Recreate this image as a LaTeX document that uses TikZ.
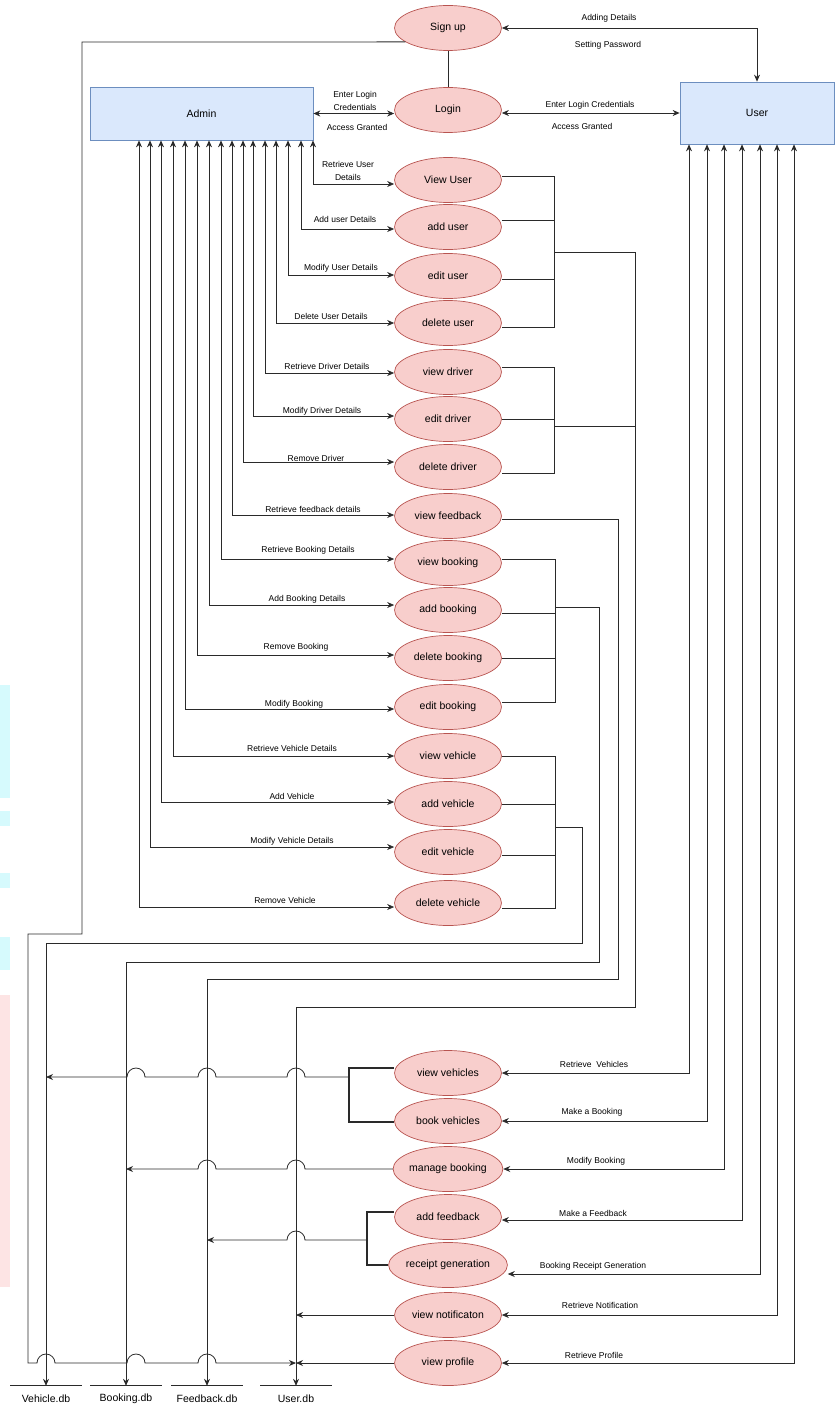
\documentclass[tikz,border=0pt]{standalone}
\usepackage{fontspec}
\setmainfont{Liberation Sans}
\usetikzlibrary{shapes.geometric,arrows.meta}
\definecolor{ucfill}{HTML}{F8CECC}
\definecolor{ucborder}{HTML}{B85450}
\definecolor{acfill}{HTML}{DAE8FC}
\definecolor{acborder}{HTML}{6C8EBF}
\definecolor{linec}{HTML}{2A2A2A}
\definecolor{wmcyan}{HTML}{D6FAFD}
\definecolor{wmpink}{HTML}{FDE4E4}
\tikzset{
  uc/.style={ellipse, draw=ucborder, fill=ucfill, line width=0.7pt, minimum width=107pt, minimum height=45pt, inner sep=0pt, font=\fontsize{10.5}{12}\selectfont},
  actor/.style={rectangle, draw=acborder, fill=acfill, line width=0.7pt, inner sep=0pt, font=\fontsize{10.5}{12}\selectfont},
  lab/.style={font=\fontsize{8.5}{13}\selectfont, inner sep=0pt, align=center},
  dbl/.style={minimum width=71pt, minimum height=26pt, inner sep=0pt, font=\fontsize{10.5}{12}\selectfont},
  conn/.style={draw=linec, line width=0.8pt},
  arr/.style={conn, -{Stealth[length=7pt,width=6pt]}},
  biarr/.style={conn, {Stealth[length=7pt,width=6pt]}-{Stealth[length=7pt,width=6pt]}},
  bracket/.style={conn, line width=1.8pt},
}
\begin{document}
\begin{tikzpicture}[x=1pt,y=-1pt]
\useasboundingbox (0,0) rectangle (835,1410);
% faint background marks at the left edge
\fill[wmcyan] (0,685) rectangle (10,798);
\fill[wmcyan] (0,811) rectangle (10,826);
\fill[wmcyan] (0,873) rectangle (10,888);
\fill[wmcyan] (0,937) rectangle (10,970);
\fill[wmpink] (0,995) rectangle (10,1287);

% actors
\node[actor, minimum width=223pt, minimum height=53pt] (admin) at (201.5,113.5) {Admin};
\node[actor, minimum width=154pt, minimum height=62pt] (user) at (757,113) {User};

% use cases
\node[uc] (signup) at (448,28) {Sign up};
\node[uc] (login) at (448,110) {Login};
\node[uc] (vuser) at (448,180) {View User};
\node[uc] (auser) at (448,227) {add user};
\node[uc] (euser) at (448,276) {edit user};
\node[uc] (duser) at (448,323) {delete user};
\node[uc] (vdriver) at (448,372) {view driver};
\node[uc] (edriver) at (448,419) {edit driver};
\node[uc] (ddriver) at (448,467) {delete driver};
\node[uc] (vfeed) at (448,516) {view feedback};
\node[uc] (vbook) at (448,563) {view booking};
\node[uc] (abook) at (448,610) {add booking};
\node[uc] (dbook) at (448,658) {delete booking};
\node[uc] (ebook) at (448,707) {edit booking};
\node[uc] (vveh) at (448,756) {view vehicle};
\node[uc] (aveh) at (448,804) {add vehicle};
\node[uc] (eveh) at (448,852) {edit vehicle};
\node[uc] (dveh) at (448,903) {delete vehicle};
\node[uc] (vvehs) at (448,1073) {view vehicles};
\node[uc] (bveh) at (448,1121) {book vehicles};
\node[uc] (mbook) at (448,1169) {manage booking};
\node[uc] (afeed) at (448,1217) {add feedback};
\node[uc] (rgen) at (448,1265) {receipt generation};
\node[uc] (vnot) at (448,1315) {view notificaton};
\node[uc] (vprof) at (448,1363) {view profile};

% data stores
\node[dbl] (vdb) at (46,1399) {Vehicle.db};
\node[dbl] (bdb) at (126,1399) {Booking.db};
\node[dbl] (fdb) at (207,1399) {Feedback.db};
\node[dbl] (udb) at (296,1399) {User.db};
\foreach \d in {vdb,bdb,fdb,udb}
  \draw[conn] (\d.north west) -- (\d.north east);

% top connections
\draw[conn] (signup.south) -- (login.north);
\draw[biarr] (signup.east) -| (user.north);
\draw[biarr] (login.east |- 0,113) -- (user.west |- 0,113);
\draw[biarr] (admin.east) -- (login.west |- admin.east);
\node[lab] at (609,18) {Adding Details};
\node[lab] at (608,45) {Setting Password};
\node[lab] at (590,105) {Enter Login Credentials};
\node[lab] at (582,126) {Access Granted};
\node[lab] at (355,100.5) {Enter Login\\Credentials};
\node[lab] at (357,127) {Access Granted};

% admin connections
\foreach \x/\y/\n in {313/184/vuser, 301/229/auser, 288/275/euser, 276/323/duser,
  265/373/vdriver, 253/416/edriver, 243/462/ddriver, 232/515/vfeed, 221/559/vbook,
  209/605/abook, 197/655/dbook, 185/709/ebook, 173/756/vveh, 161/802/aveh,
  150/847/eveh, 139/907/dveh}
  \draw[biarr] (admin.south -| \x,0) |- (\n.west |- 0,\y);
\node[lab] at (348,170.5) {Retrieve User\\Details};
\node[lab] at (345,219) {Add user Details};
\node[lab] at (341,268) {Modify User Details};
\node[lab] at (331,316) {Delete User Details};
\node[lab] at (327,366) {Retrieve Driver Details};
\node[lab] at (322,411) {Modify Driver Details};
\node[lab] at (316,458) {Remove Driver};
\node[lab] at (313,509) {Retrieve feedback details};
\node[lab] at (308,550) {Retrieve Booking Details};
\node[lab] at (307,599) {Add Booking Details};
\node[lab] at (296,647) {Remove Booking};
\node[lab] at (294,704) {Modify Booking};
\node[lab] at (292,748) {Retrieve Vehicle Details};
\node[lab] at (292,796) {Add Vehicle};
\node[lab] at (292,841) {Modify Vehicle Details};
\node[lab] at (285,900) {Remove Vehicle};

% user-group bus
\draw[conn] (vuser.east |- 0,176) -- (554,176) -- (554,327) -- (duser.east |- 0,327);
\draw[conn] (auser.east |- 0,220) -- (554,220);
\draw[conn] (euser.east |- 0,279) -- (554,279);
% driver-group bus
\draw[conn] (vdriver.east |- 0,367) -- (554,367) -- (554,473) -- (ddriver.east |- 0,473);
\draw[conn] (edriver.east) -- (edriver.east -| 554,0);
\draw[conn] (554,426) -- (635,426);
\draw[arr] (554,252) -- (635,252) -- (635,1007) -- (udb.north |- 0,1007) -- (udb.north);
% feedback
\draw[arr] (vfeed.east |- 0,519) -- (618,519) -- (618,979) -- (fdb.north |- 0,979) -- (fdb.north);
% booking-group bus
\draw[conn] (vbook.east |- 0,559) -- (555,559) -- (555,702) -- (ebook.east |- 0,702);
\draw[conn] (abook.east |- 0,613) -- (555,613);
\draw[conn] (dbook.east) -- (dbook.east -| 555,0);
\draw[arr] (555,607) -- (599,607) -- (599,962) -- (bdb.north |- 0,962) -- (bdb.north);
% vehicle-group bus
\draw[conn] (vveh.east) -- (vveh.east -| 555,0) -- (555,908) -- (dveh.east |- 0,908);
\draw[conn] (aveh.east) -- (aveh.east -| 555,0);
\draw[conn] (eveh.east |- 0,855) -- (555,855);
\draw[arr] (555,827) -- (582,827) -- (582,943) -- (vdb.north |- 0,943) -- (vdb.north);

% sign up to user.db
\draw[arr] (signup.198) -- (82,42) -- (82,934) -- (28,934) -- (28,1363)
  -- (37,1363) arc[start angle=180,end angle=0,radius=9pt]
  -- (127,1363) arc[start angle=180,end angle=0,radius=9pt]
  -- (198,1363) arc[start angle=180,end angle=0,radius=9pt]
  -- (udb.north |- 0,1363);

% user side connections
\foreach \x/\y/\n in {689/1073/vvehs, 707/1121/bveh, 724/1169/mbook, 742/1220/afeed,
  760/1274/rgen, 777/1315/vnot, 794/1363/vprof}
  \draw[biarr] (user.south -| \x,0) |- (\n.east |- 0,\y);
\node[lab] at (594,1064) {Retrieve\ \ Vehicles};
\node[lab] at (592,1112) {Make a Booking};
\node[lab] at (596,1161) {Modify Booking};
\node[lab] at (593,1213) {Make a Feedback};
\node[lab] at (593,1266) {Booking Receipt Generation};
\node[lab] at (600,1305) {Retrieve Notification};
\node[lab] at (594,1355) {Retrieve Profile};

% bottom connections to stores
\draw[bracket] (vvehs.west |- 0,1068) -- (349,1068) -- (349,1122) -- (bveh.west |- 0,1122);
\draw[arr] (349,1077) -- (305,1077) arc[start angle=0,end angle=180,radius=9pt]
  -- (216,1077) arc[start angle=0,end angle=180,radius=9pt]
  -- (145,1077) arc[start angle=0,end angle=180,radius=9pt]
  -- (vdb.north |- 0,1077);
\draw[arr] (mbook.west) -- (305,1169) arc[start angle=0,end angle=180,radius=9pt]
  -- (216,1169) arc[start angle=0,end angle=180,radius=9pt]
  -- (bdb.north |- 0,1169);
\draw[bracket] (afeed.west |- 0,1212) -- (367,1212) -- (367,1265) -- (rgen.west);
\draw[arr] (367,1240) -- (305,1240) arc[start angle=0,end angle=180,radius=9pt]
  -- (fdb.north |- 0,1240);
\draw[arr] (vnot.west) -- (udb.north |- vnot.west);
\draw[arr] (vprof.west) -- (udb.north |- vprof.west);
\end{tikzpicture}
\end{document}
